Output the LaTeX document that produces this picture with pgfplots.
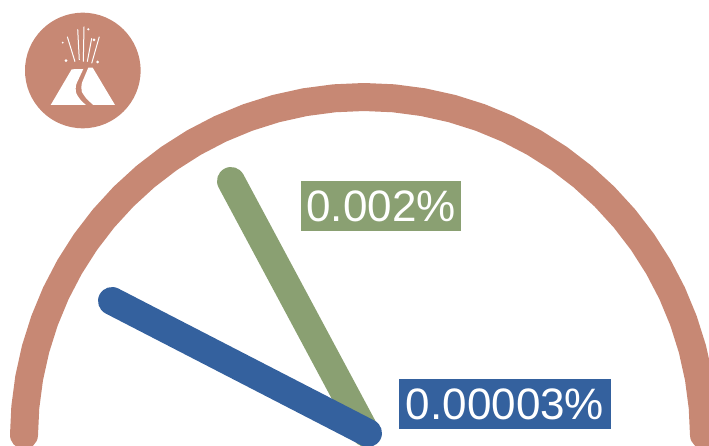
\documentclass[border=0pt]{standalone}
\usepackage{pgfplots}
\pgfplotsset{compat=1.18}
\usepackage{fontspec}
\setmainfont{Liberation Sans}
\definecolor{arcc}{HTML}{C78874}
\definecolor{greenc}{HTML}{8AA072}
\definecolor{bluec}{HTML}{34619E}
\begin{document}
\begin{tikzpicture}
\useasboundingbox (0,0) rectangle (709pt,445pt);
\begin{axis}[at={(0,0)},anchor=south west,scale only axis,width=709pt,height=445pt,xmin=0,xmax=709,ymin=0,ymax=445,hide axis,clip=true]
% gauge arc
\addplot[arcc,line width=28pt,line cap=round,line join=round] coordinates {
(24,10)(25.29,37.63)(29.17,67.04)(35.58,96)(44.51,124.29)(55.85,151.69)(69.55,178)(85.49,203.02)(103.55,226.55)(123.58,248.42)(145.45,268.45)(168.98,286.51)(194,302.45)(220.31,316.15)(247.71,327.49)(276,336.42)(304.96,342.83)(334.37,346.71)(364,348)(393.63,346.71)(423.04,342.83)(452,336.42)(480.29,327.49)(507.69,316.15)(534,302.45)(559.02,286.51)(582.55,268.45)(604.42,248.42)(624.45,226.55)(642.51,203.02)(658.45,178)(672.15,151.69)(683.49,124.29)(692.42,96)(698.83,67.04)(702.71,37.63)(704,10)};
% needles
\addplot[greenc,line width=28pt,line cap=round] coordinates {(231,264)(366,12)};
\addplot[bluec,line width=28pt,line cap=round] coordinates {(112,144)(368,12)};
% value labels
\node[fill=greenc,text=white,inner sep=0pt,minimum width=160pt,minimum height=50pt,anchor=center] at (axis cs:381,239) {\fontsize{44}{44}\selectfont 0.002\%};
\node[fill=bluec,text=white,inner sep=0pt,minimum width=212pt,minimum height=50pt,anchor=center] at (axis cs:505,41) {\fontsize{44}{44}\selectfont 0.00003\%};
% icon
\fill[arcc] (axis cs:82.8,374.5) circle[radius=57.8pt];
\fill[white] (axis cs:50.7,340)--(axis cs:71.7,375.7)--(axis cs:83.3,376)[rounded corners=6pt]--(axis cs:74.3,356.7)--(axis cs:78.3,346.7)[sharp corners]--(axis cs:86,340)--cycle;
\fill[white] (axis cs:88.3,377.3)--(axis cs:92.7,377.3)--(axis cs:115,340)--(axis cs:93.3,340)[rounded corners=6pt]--(axis cs:84,348.3)--(axis cs:80,357.7)[sharp corners]--cycle;
\draw[white,line width=1pt] (axis cs:75,383.3)--(axis cs:67.3,408.3);
\draw[white,line width=1pt] (axis cs:79.3,385)--(axis cs:77.7,415.7);
\draw[white,line width=1pt] (axis cs:83.3,383.3)--(axis cs:84,418.3);
\draw[white,line width=1pt] (axis cs:87.3,383.3)--(axis cs:91.7,406.7);
\draw[white,line width=1pt] (axis cs:91.7,381.7)--(axis cs:99.3,408.3);
\fill[white] (axis cs:62.7,402.3) circle[radius=1pt];
\fill[white] (axis cs:66,384.3) circle[radius=1.5pt];
\fill[white] (axis cs:88.3,415.7) circle[radius=1.2pt];
\fill[white] (axis cs:94,405) circle[radius=1.5pt];
\fill[white] (axis cs:97.7,383) circle[radius=1.5pt];
\end{axis}
\end{tikzpicture}
\end{document}
